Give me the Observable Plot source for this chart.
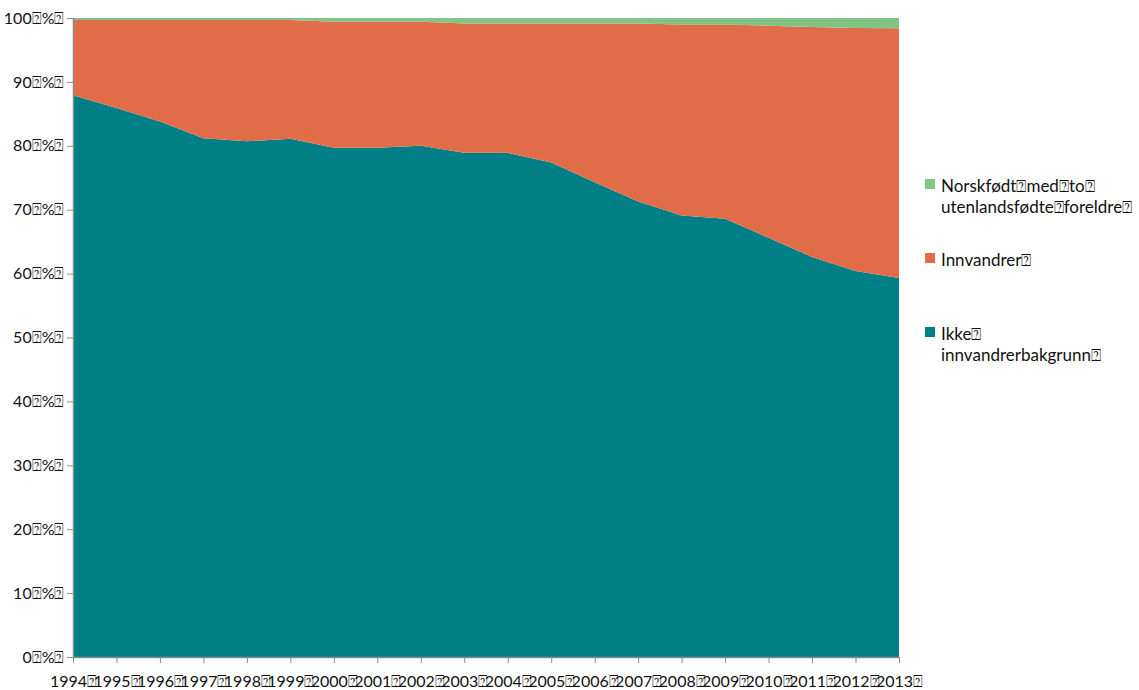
<!DOCTYPE html>
<html>
<head>
<meta charset="utf-8">
<script src="https://cdn.jsdelivr.net/npm/d3@7"></script>
<script src="https://cdn.jsdelivr.net/npm/@observablehq/plot@0.6"></script>
<style>
  html, body { margin: 0; padding: 0; background: #fff; }
  #wrap { position: relative; width: 1139px; height: 690px; font-family: Lato, "Open Sans", sans-serif; }
  #chart { position: absolute; left: 0; top: 0; }
  .leg { position: absolute; font-size: 17px; line-height: 21px; color: #111; white-space: nowrap; }
  .sw { position: absolute; width: 10px; height: 10px; }
</style>
</head>
<body>
<div id="wrap"><div id="chart"></div></div>
<script>
const Q = "\u2370";
const years = [1994,1995,1996,1997,1998,1999,2000,2001,2002,2003,2004,2005,2006,2007,2008,2009,2010,2011,2012,2013];
const ikke = [87.9,85.9,83.8,81.2,80.7,81.1,79.7,79.7,80.0,78.9,78.9,77.4,74.3,71.3,69.1,68.6,65.6,62.6,60.4,59.3];
const innvandrer = [11.8,13.8,15.9,18.5,19.0,18.6,19.7,19.7,19.4,20.25,20.25,21.75,24.85,27.85,29.9,30.4,33.2,36.0,38.05,39.1];
const norskfodt = [0.3,0.3,0.3,0.3,0.3,0.3,0.6,0.6,0.6,0.85,0.85,0.85,0.85,0.85,1.0,1.0,1.2,1.4,1.55,1.6];
const seriesNames = ["Ikke innvandrerbakgrunn", "Innvandrer", "Norskfødt med to utenlandsfødte foreldre"];
const seriesColors = ["#007F86", "#E06D47", "#82C386"];
const yTicks = [0,10,20,30,40,50,60,70,80,90,100];
const legendLines = [
  ["Norskfødt" + Q + "med" + Q + "to" + Q, "utenlandsfødte" + Q + "foreldre" + Q],
  ["Innvandrer" + Q],
  ["Ikke" + Q, "innvandrerbakgrunn" + Q]
];
const legendSeries = [2, 1, 0];
const legendTops = [175, 249, 323];

const values = [ikke, innvandrer, norskfodt];
const rows = [];
seriesNames.forEach((s, i) => years.forEach((y, j) => rows.push({year: y, series: s, value: values[i][j]})));

const axisColor = "#8a8a8a";
const chart = Plot.plot({
  width: 1139,
  height: 690,
  marginLeft: 73,
  marginRight: 240,
  marginTop: 18,
  marginBottom: 33,
  style: {fontFamily: "Lato, 'Open Sans', sans-serif", fontSize: "16px", color: "#111", background: "#fff"},
  x: {domain: [1994, 2013], label: null},
  y: {domain: [0, 100], label: null},
  color: {domain: seriesNames, range: seriesColors},
  marks: [
    Plot.areaY(rows, {x: "year", y: "value", fill: "series", order: seriesNames}),
    Plot.ruleY([0], {stroke: axisColor, strokeWidth: 1.5}),
    Plot.ruleX([1994], {stroke: axisColor, strokeWidth: 1.5}),
    Plot.axisX(years, {tickSize: 6, tickPadding: 12, stroke: axisColor, tickFormat: d => d + Q, fill: "#111", fontSize: 16}),
    Plot.axisY(yTicks, {tickSize: 6, tickPadding: 3, stroke: axisColor, tickFormat: d => d + Q + "%" + Q, fill: "#111", fontSize: 16})
  ]
});
document.getElementById("chart").appendChild(chart);

const wrap = document.getElementById("wrap");
legendSeries.forEach((si, k) => {
  const sw = document.createElement("div");
  sw.className = "sw";
  sw.style.left = "925px";
  sw.style.top = (legendTops[k] + 4) + "px";
  sw.style.background = seriesColors[si];
  wrap.appendChild(sw);
  const t = document.createElement("div");
  t.className = "leg";
  t.style.left = "941px";
  t.style.top = legendTops[k] + "px";
  t.innerHTML = legendLines[k].join("<br>");
  wrap.appendChild(t);
});
</script>
</body>
</html>
